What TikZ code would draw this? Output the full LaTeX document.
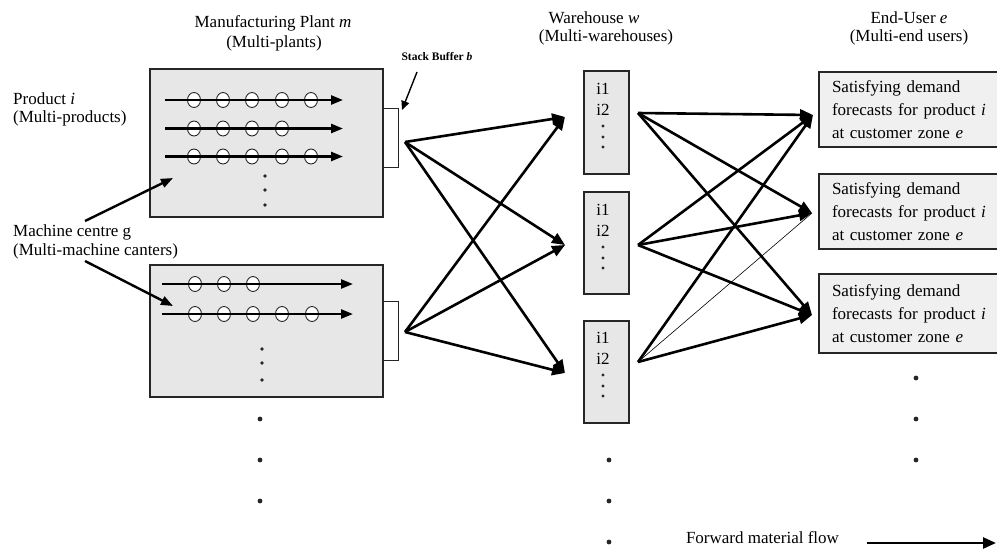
\documentclass[tikz,border=0pt]{standalone}
\usepackage{fontspec}
\setmainfont{Liberation Serif}
\usetikzlibrary{arrows.meta}
\begin{document}
\begin{tikzpicture}[x=1pt,y=-1pt,
  txt/.style={font=\fontsize{17}{19}\selectfont, inner sep=0pt},
  graybox/.style={draw=black!85, line width=1.5pt, fill=gray!19, inner sep=0pt},
  bufbox/.style={draw=black!85, line width=1pt, fill=white, inner sep=0pt, minimum width=15pt, minimum height=59pt},
  whbox/.style={graybox, minimum width=45pt},
  eubox/.style={graybox, fill=gray!12, text width=155pt, align=left, inner xsep=13pt, inner ysep=0pt,
                font=\fontsize{17}{23}\selectfont},
  flow/.style={line width=2.6pt, -{Triangle[length=13pt,width=11pt]}},
  thinflow/.style={line width=0.6pt},
  rowarrow/.style={line width=2.4pt, -{Triangle[length=12pt,width=9pt]}},
  mc/.style={draw=black!85, line width=0.9pt, fill=white},
  pointer/.style={line width=2.4pt, -{Triangle[length=12pt,width=9pt]}},
  dotsm/.style={fill=black!85}
]
\clip (0,0) rectangle (997,549);
\fill[white] (0,0) rectangle (997,549);

% ---------- headers ----------
\node[txt] (hp1) at (273,23) {Manufacturing Plant \textit{m}};
\node[txt] (hp2) at (274,43) {(Multi-plants)};
\node[txt] (hw1) at (594,18) {Warehouse \textit{w}};
\node[txt] (hw2) at (606,37) {(Multi-warehouses)};
\node[txt] (he1) at (909,18) {End-User \textit{e}};
\node[txt] (he2) at (909,37) {(Multi-end users)};

% ---------- left labels ----------
\node[txt, anchor=west, align=left, font=\fontsize{17}{18}\selectfont] (prod) at (13,109)
  {Product \textit{i}\\(Multi-products)};
\node[txt, anchor=west, align=left] (mach) at (13,241.5)
  {Machine centre g\\(Multi-machine canters)};
\node[inner sep=0pt, font=\bfseries\fontsize{11.5}{13}\selectfont] (sbl) at (437,57) {Stack Buffer \textit{b}};

% ---------- plants ----------
\node[graybox, minimum width=233pt, minimum height=148pt] (p1) at (266.5,143) {};
\node[bufbox] (b1) at (390.5,137.5) {};
\node[graybox, minimum width=233pt, minimum height=132pt] (p2) at (266.5,331) {};
\node[bufbox] (b2) at (390.5,330.5) {};

% plant 1 rows
\foreach \x in {194,223,252,282,311} \draw[mc] (\x,100) ellipse[x radius=6.5pt, y radius=7.5pt];
\foreach \x in {194,223,252,282} \draw[mc] (\x,128.5) ellipse[x radius=6.5pt, y radius=7.5pt];
\foreach \x in {194,223,252,282,311} \draw[mc] (\x,156.5) ellipse[x radius=6.5pt, y radius=7.5pt];
\coordinate (r1a) at (165,100);   \coordinate (r1b) at (343,100);
\coordinate (r2a) at (165,128.5); \coordinate (r2b) at (343,128.5);
\coordinate (r3a) at (165,156.5); \coordinate (r3b) at (343,156.5);
\draw[rowarrow] (r1a) -- (r1b);
\draw[rowarrow] (r2a) -- (r2b);
\draw[rowarrow] (r3a) -- (r3b);
\foreach \y in {176,190,205} \fill[dotsm] (265,\y) circle (1.8pt);

% plant 2 rows
\foreach \x in {195,224,253} \draw[mc] (\x,284) ellipse[x radius=6.5pt, y radius=7.5pt];
\foreach \x in {195,224,253,282,312} \draw[mc] (\x,314) ellipse[x radius=6.5pt, y radius=7.5pt];
\coordinate (q1a) at (162,284); \coordinate (q1b) at (353,284);
\coordinate (q2a) at (162,314); \coordinate (q2b) at (353,314);
\draw[rowarrow] (q1a) -- (q1b);
\draw[rowarrow] (q2a) -- (q2b);
\foreach \y in {349,363,380} \fill[dotsm] (262,\y) circle (1.8pt);
\foreach \y in {419,460,501} \fill[dotsm] (260,\y) circle (2.4pt);

% pointers
\coordinate (mtop) at (85,221);  \coordinate (mtopt) at (173,178);
\coordinate (mbot) at (85,261);  \coordinate (mbott) at (173,306);
\draw[pointer] (mtop) -- (mtopt);
\draw[pointer] (mbot) -- (mbott);
\coordinate (sbs) at (417,72); \coordinate (sbt) at (402,110);
\draw[line width=1.4pt, -{Triangle[length=9pt,width=8pt]}] (sbs) -- (sbt);

% ---------- warehouses ----------
\node[whbox, minimum height=103pt] (w1) at (606.5,122.5) {};
\node[whbox, minimum height=102pt] (w2) at (606.5,243) {};
\node[whbox, minimum height=102pt] (w3) at (606.5,372) {};
\foreach \t/\o in {0/0,1/121,2/249}{
  \node[txt] at (603,89+\o) {i1};
  \node[txt] at (603,110+\o) {i2};
  \foreach \d in {126,137,147} \fill[dotsm] (603,\d+\o) circle (1.6pt);
}
\foreach \y in {460,501,542} \fill[dotsm] (609,\y) circle (2.4pt);

% ---------- end users ----------
\node[eubox, minimum height=75pt] (e1) at (909.5,109.5)
  {Satisfying demand\\forecasts for product \textit{i}\\at customer zone \textit{e}};
\node[eubox, minimum height=75pt] (e2) at (909.5,211.5)
  {Satisfying demand\\forecasts for product \textit{i}\\at customer zone \textit{e}};
\node[eubox, minimum height=79pt] (e3) at (909.5,313.5)
  {Satisfying demand\\forecasts for product \textit{i}\\at customer zone \textit{e}};
\foreach \y in {378,419,460} \fill[dotsm] (916,\y) circle (2.4pt);

% ---------- network: plants -> warehouses ----------
\coordinate (ps1) at (405,142);
\coordinate (ps2) at (405,332);
\coordinate (wt1) at (565,117);
\coordinate (wt2) at (565,245);
\coordinate (wt3) at (565,373);
\foreach \s in {ps1,ps2} \foreach \t in {wt1,wt2,wt3} \draw[flow] (\s) -- (\t);

% ---------- network: warehouses -> end users ----------
\coordinate (ws1) at (638,113);
\coordinate (ws2) at (638,245);
\coordinate (ws3) at (638,362);
\coordinate (et1) at (813,115);
\coordinate (et2) at (812,213);
\coordinate (et3) at (812,315);
\foreach \t in {et1,et2,et3} \draw[flow] (ws1) -- (\t);
\foreach \t in {et1,et2,et3} \draw[flow] (ws2) -- (\t);
\draw[flow] (ws3) -- (et1);
\draw[thinflow] (ws3) -- (et2);
\draw[flow] (ws3) -- (et3);

% ---------- legend ----------
\node[txt] (fmf) at (762.5,538) {Forward material flow};
\coordinate (fa) at (867,543); \coordinate (fb) at (996,543);
\draw[flow] (fa) -- (fb);
\end{tikzpicture}
\end{document}
